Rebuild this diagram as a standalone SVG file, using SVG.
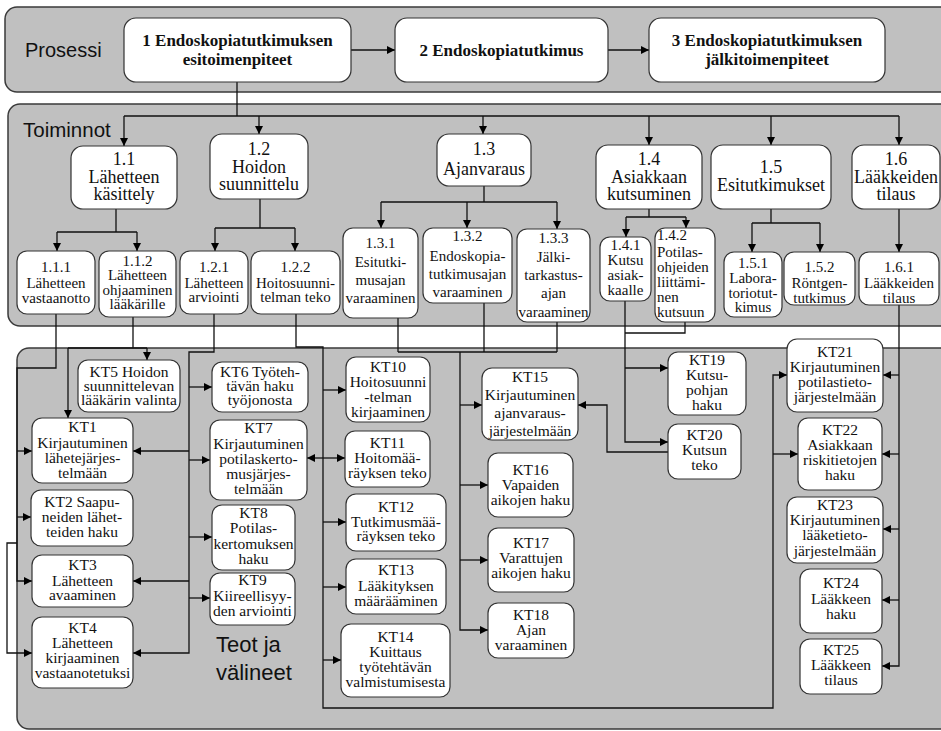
<svg xmlns="http://www.w3.org/2000/svg" width="941" height="731" viewBox="0 0 941 731">
<defs>
<marker id="ah" viewBox="0 0 10 10" refX="10" refY="5" markerWidth="9" markerHeight="8" orient="auto" markerUnits="userSpaceOnUse"><path d="M0,0L10,5L0,10z" fill="#000"/></marker>
</defs>
<style>
.panel{fill:#c0c0c0;stroke:#3a3a3a;stroke-width:1.5}
.node rect{fill:#fff;stroke:#333;stroke-width:1.2}
.node text{font-family:"Liberation Serif","Times New Roman",serif;font-size:15.5px;fill:#111;text-anchor:middle}
.l2 text{font-size:18px}
.l3 text{font-size:15px}
.p text{font-size:17px;font-weight:bold}
.lbl{font-family:"Liberation Sans",Arial,sans-serif;fill:#111}
#connectors path{fill:none;stroke:#111;stroke-width:1.3}
#connectors .a{marker-end:url(#ah)}
</style>
<rect fill="#fff" x="0" y="0" width="941" height="731"/>
<g id="panels">
<rect class="panel" x="5" y="7" width="960" height="85" rx="12"/>
<rect class="panel" x="8" y="104" width="960" height="222" rx="12"/>
<rect class="panel" x="17" y="348" width="960" height="381" rx="12"/>
<text class="lbl" x="25" y="57" font-size="20">Prosessi</text>
<text class="lbl" x="23" y="137" font-size="20.5">Toiminnot</text>
<text class="lbl" x="216" y="652" font-size="22">Teot ja</text>
<text class="lbl" x="216" y="680" font-size="22">välineet</text>
</g>
<g id="connectors">
<path class="a" d="M351,50H395"/>
<path class="a" d="M608,50H649"/>
<path d="M237,82V116M124,116H899"/>
<path class="a" d="M124,116V146"/>
<path class="a" d="M259,116V134"/>
<path class="a" d="M483,116V134"/>
<path class="a" d="M649,116V145"/>
<path class="a" d="M771,116V145"/>
<path class="a" d="M899,116V145"/>
<path d="M116,209V232M57,232H137"/>
<path class="a" d="M57,232V251"/>
<path class="a" d="M137,232V251"/>
<path d="M260,199V228M215,228H295"/>
<path class="a" d="M215,228V251"/>
<path class="a" d="M295,228V251"/>
<path d="M484,186V202M381,202H557"/>
<path class="a" d="M381,202V228"/>
<path class="a" d="M467,202V228"/>
<path class="a" d="M557,202V229"/>
<path d="M649,209V217M626,217H686"/>
<path class="a" d="M626,217V237"/>
<path class="a" d="M686,217V228"/>
<path d="M771,209V223M752,223H820"/>
<path class="a" d="M752,223V252"/>
<path class="a" d="M820,223V252"/>
<path class="a" d="M899,209V252"/>
<path class="a" d="M56,314V368H17V581H32"/>
<path class="a" d="M17,451H32"/>
<path class="a" d="M17,517H31"/>
<path class="a" d="M17,543H7V653H32"/>
<path d="M133,317V348M68,348H147"/>
<path class="a" d="M68,348V418"/>
<path class="a" d="M147,348V360"/>
<path class="a" d="M214,314V352H189V653H133"/>
<path class="a" d="M189,387H212"/>
<path class="a" d="M189,451H133"/>
<path class="a" d="M189,460H210"/>
<path class="a" d="M189,537H212"/>
<path class="a" d="M189,581H133"/>
<path class="a" d="M189,598H210"/>
<path class="a" d="M296,314V347H323V708H773V375H787"/>
<path class="a" d="M323,390H346"/>
<path class="a" d="M323,458H307"/>
<path class="a" d="M323,458H345"/>
<path class="a" d="M323,522H346"/>
<path class="a" d="M323,587H346"/>
<path class="a" d="M323,660H341"/>
<path class="a" d="M773,454H798"/>
<path d="M398,318V352M484,303V352M557,322V352M398,352H557"/>
<path class="a" d="M460,352V630H488"/>
<path class="a" d="M460,405H482"/>
<path class="a" d="M460,485H488"/>
<path class="a" d="M460,560H488"/>
<path class="a" d="M625,301V442H668"/>
<path d="M685,322V333H625"/>
<path class="a" d="M625,368H668"/>
<path class="a" d="M668,452H607V405H578"/>
<path class="a" d="M899,305V666H882"/>
<path class="a" d="M899,375H883"/>
<path class="a" d="M899,454H882"/>
<path class="a" d="M899,529H883"/>
<path class="a" d="M899,600H882"/>
</g>
<g id="n1" class="node p"><rect x="124" y="18" width="227" height="64" rx="12"/><text><tspan x="237.5" y="46">1 Endoskopiatutkimuksen</tspan><tspan x="237.5" y="65">esitoimenpiteet</tspan></text></g>
<g id="n2" class="node p"><rect x="395" y="18" width="213" height="64" rx="12"/><text><tspan x="501.5" y="56">2 Endoskopiatutkimus</tspan></text></g>
<g id="n3" class="node p"><rect x="649" y="18" width="236" height="64" rx="12"/><text><tspan x="767" y="46">3 Endoskopiatutkimuksen</tspan><tspan x="767" y="65">jälkitoimenpiteet</tspan></text></g>
<g id="n1_1" class="node l2"><rect x="71" y="146" width="106" height="63" rx="12"/><text><tspan x="124" y="165">1.1</tspan><tspan x="124" y="183">Lähetteen</tspan><tspan x="124" y="200">käsittely</tspan></text></g>
<g id="n1_2" class="node l2"><rect x="210" y="134" width="98" height="65" rx="12"/><text><tspan x="259" y="155">1.2</tspan><tspan x="259" y="172.5">Hoidon</tspan><tspan x="259" y="190">suunnittelu</tspan></text></g>
<g id="n1_3" class="node l2"><rect x="437" y="134" width="94" height="52" rx="12"/><text><tspan x="484" y="155">1.3</tspan><tspan x="484" y="175">Ajanvaraus</tspan></text></g>
<g id="n1_4" class="node l2"><rect x="596" y="145" width="106" height="64" rx="12"/><text><tspan x="649" y="165">1.4</tspan><tspan x="649" y="183">Asiakkaan</tspan><tspan x="649" y="200">kutsuminen</tspan></text></g>
<g id="n1_5" class="node l2"><rect x="711" y="145" width="120" height="64" rx="12"/><text><tspan x="771" y="173">1.5</tspan><tspan x="771" y="191">Esitutkimukset</tspan></text></g>
<g id="n1_6" class="node l2"><rect x="852" y="145" width="88" height="64" rx="12"/><text><tspan x="896" y="165">1.6</tspan><tspan x="896" y="183">Lääkkeiden</tspan><tspan x="896" y="200">tilaus</tspan></text></g>
<g id="n1_1_1" class="node l3"><rect x="17" y="251" width="78" height="63" rx="10"/><text><tspan x="56" y="272">1.1.1</tspan><tspan x="56" y="288">Lähetteen</tspan><tspan x="56" y="303">vastaanotto</tspan></text></g>
<g id="n1_1_2" class="node l3"><rect x="99" y="251" width="77" height="66" rx="10"/><text><tspan x="137.5" y="266">1.1.2</tspan><tspan x="137.5" y="280">Lähetteen</tspan><tspan x="137.5" y="295">ohjaaminen</tspan><tspan x="137.5" y="309">lääkärille</tspan></text></g>
<g id="n1_2_1" class="node l3"><rect x="180" y="251" width="68" height="63" rx="10"/><text><tspan x="214" y="272">1.2.1</tspan><tspan x="214" y="288">Lähetteen</tspan><tspan x="214" y="302">arviointi</tspan></text></g>
<g id="n1_2_2" class="node l3"><rect x="251" y="251" width="89" height="63" rx="10"/><text><tspan x="295.5" y="272">1.2.2</tspan><tspan x="295.5" y="288">Hoitosuunni-</tspan><tspan x="295.5" y="302">telman teko</tspan></text></g>
<g id="n1_3_1" class="node l3"><rect x="343" y="228" width="75" height="90" rx="10"/><text><tspan x="380.5" y="248">1.3.1</tspan><tspan x="380.5" y="267">Esitutki-</tspan><tspan x="380.5" y="285">musajan</tspan><tspan x="380.5" y="303">varaaminen</tspan></text></g>
<g id="n1_3_2" class="node l3"><rect x="423" y="228" width="89" height="75" rx="10"/><text><tspan x="467.5" y="241">1.3.2</tspan><tspan x="467.5" y="261">Endoskopia-</tspan><tspan x="467.5" y="279">tutkimusajan</tspan><tspan x="467.5" y="297">varaaminen</tspan></text></g>
<g id="n1_3_3" class="node l3"><rect x="517" y="229" width="73" height="93" rx="10"/><text><tspan x="553.5" y="243">1.3.3</tspan><tspan x="553.5" y="262">Jälki-</tspan><tspan x="553.5" y="280">tarkastus-</tspan><tspan x="553.5" y="298">ajan</tspan><tspan x="553.5" y="317">varaaminen</tspan></text></g>
<g id="n1_4_1" class="node l3"><rect x="600" y="237" width="51" height="64" rx="10"/><text><tspan x="625.5" y="250">1.4.1</tspan><tspan x="625.5" y="265">Kutsu</tspan><tspan x="625.5" y="280">asiak-</tspan><tspan x="625.5" y="295">kaalle</tspan></text></g>
<g id="n1_4_2" class="node l3"><rect x="655" y="228" width="60" height="94" rx="10"/><text style="text-anchor:start"><tspan x="657" y="240">1.4.2</tspan><tspan x="657" y="257">Potilas-</tspan><tspan x="657" y="272">ohjeiden</tspan><tspan x="657" y="287">liittämi-</tspan><tspan x="657" y="302">nen</tspan><tspan x="657" y="317">kutsuun</tspan></text></g>
<g id="n1_5_1" class="node l3"><rect x="724" y="252" width="58" height="65" rx="10"/><text><tspan x="753" y="268">1.5.1</tspan><tspan x="753" y="283">Labora-</tspan><tspan x="753" y="298">toriotut-</tspan><tspan x="753" y="312">kimus</tspan></text></g>
<g id="n1_5_2" class="node l3"><rect x="784" y="252" width="71" height="53" rx="10"/><text><tspan x="819.5" y="272">1.5.2</tspan><tspan x="819.5" y="288">Röntgen-</tspan><tspan x="819.5" y="303">tutkimus</tspan></text></g>
<g id="n1_6_1" class="node l3"><rect x="859" y="252" width="80" height="53" rx="10"/><text><tspan x="899" y="272">1.6.1</tspan><tspan x="899" y="288">Lääkkeiden</tspan><tspan x="899" y="303">tilaus</tspan></text></g>
<g id="kt1" class="node"><rect x="32" y="418" width="101" height="65" rx="10"/><text><tspan x="82.5" y="432">KT1</tspan><tspan x="82.5" y="448">Kirjautuminen</tspan><tspan x="82.5" y="463">lähetejärjes-</tspan><tspan x="82.5" y="478">telmään</tspan></text></g>
<g id="kt2" class="node"><rect x="31" y="490" width="102" height="56" rx="10"/><text><tspan x="82" y="507">KT2 Saapu-</tspan><tspan x="82" y="522">neiden lähet-</tspan><tspan x="82" y="537">teiden haku</tspan></text></g>
<g id="kt3" class="node"><rect x="32" y="555" width="101" height="52" rx="10"/><text><tspan x="82.5" y="570">KT3</tspan><tspan x="82.5" y="586">Lähetteen</tspan><tspan x="82.5" y="600">avaaminen</tspan></text></g>
<g id="kt4" class="node"><rect x="32" y="617" width="101" height="71" rx="10"/><text><tspan x="82.5" y="633">KT4</tspan><tspan x="82.5" y="648">Lähetteen</tspan><tspan x="82.5" y="663">kirjaaminen</tspan><tspan x="82.5" y="678">vastaanotetuksi</tspan></text></g>
<g id="kt5" class="node"><rect x="78" y="360" width="102" height="52" rx="10"/><text><tspan x="129" y="377">KT5 Hoidon</tspan><tspan x="129" y="391">suunnittelevan</tspan><tspan x="129" y="405">lääkärin valinta</tspan></text></g>
<g id="kt6" class="node"><rect x="212" y="362" width="96" height="50" rx="10"/><text><tspan x="260" y="377">KT6 Työteh-</tspan><tspan x="260" y="391">tävän haku</tspan><tspan x="260" y="405">työjonosta</tspan></text></g>
<g id="kt7" class="node"><rect x="210" y="420" width="97" height="80" rx="10"/><text><tspan x="258.5" y="433">KT7</tspan><tspan x="258.5" y="449">Kirjautuminen</tspan><tspan x="258.5" y="464">potilaskerto-</tspan><tspan x="258.5" y="479">musjärjes-</tspan><tspan x="258.5" y="494">telmään</tspan></text></g>
<g id="kt8" class="node"><rect x="212" y="505" width="83" height="65" rx="10"/><text><tspan x="253.5" y="518">KT8</tspan><tspan x="253.5" y="533">Potilas-</tspan><tspan x="253.5" y="549">kertomuksen</tspan><tspan x="253.5" y="564">haku</tspan></text></g>
<g id="kt9" class="node"><rect x="210" y="573" width="85" height="52" rx="10"/><text><tspan x="252.5" y="585">KT9</tspan><tspan x="252.5" y="601">Kiireellisyy-</tspan><tspan x="252.5" y="616">den arviointi</tspan></text></g>
<g id="kt10" class="node"><rect x="346" y="357" width="84" height="65" rx="10"/><text><tspan x="388" y="372">KT10</tspan><tspan x="388" y="387">Hoitosuunni</tspan><tspan x="388" y="402">-telman</tspan><tspan x="388" y="417">kirjaaminen</tspan></text></g>
<g id="kt11" class="node"><rect x="345" y="431" width="85" height="56" rx="10"/><text><tspan x="387.5" y="448">KT11</tspan><tspan x="387.5" y="463">Hoitomää-</tspan><tspan x="387.5" y="478">räyksen teko</tspan></text></g>
<g id="kt12" class="node"><rect x="346" y="494" width="100" height="57" rx="10"/><text><tspan x="396" y="512">KT12</tspan><tspan x="396" y="527">Tutkimusmää-</tspan><tspan x="396" y="541">räyksen teko</tspan></text></g>
<g id="kt13" class="node"><rect x="346" y="559" width="100" height="55" rx="10"/><text><tspan x="396" y="575">KT13</tspan><tspan x="396" y="591">Lääkityksen</tspan><tspan x="396" y="606">määrääminen</tspan></text></g>
<g id="kt14" class="node"><rect x="341" y="624" width="109" height="73" rx="10"/><text><tspan x="395.5" y="642">KT14</tspan><tspan x="395.5" y="657">Kuittaus</tspan><tspan x="395.5" y="672">työtehtävän</tspan><tspan x="395.5" y="687">valmistumisesta</tspan></text></g>
<g id="kt15" class="node"><rect x="482" y="368" width="96" height="72" rx="10"/><text><tspan x="530" y="382">KT15</tspan><tspan x="530" y="400">Kirjautuminen</tspan><tspan x="530" y="418">ajanvaraus-</tspan><tspan x="530" y="436">järjestelmään</tspan></text></g>
<g id="kt16" class="node"><rect x="488" y="453" width="85" height="64" rx="10"/><text><tspan x="530.5" y="475">KT16</tspan><tspan x="530.5" y="490">Vapaiden</tspan><tspan x="530.5" y="505">aikojen haku</tspan></text></g>
<g id="kt17" class="node"><rect x="488" y="528" width="86" height="64" rx="10"/><text><tspan x="531" y="548">KT17</tspan><tspan x="531" y="563">Varattujen</tspan><tspan x="531" y="578">aikojen haku</tspan></text></g>
<g id="kt18" class="node"><rect x="488" y="603" width="86" height="55" rx="10"/><text><tspan x="531" y="620">KT18</tspan><tspan x="531" y="635">Ajan</tspan><tspan x="531" y="650">varaaminen</tspan></text></g>
<g id="kt19" class="node"><rect x="668" y="352" width="78" height="63" rx="10"/><text><tspan x="707" y="365">KT19</tspan><tspan x="707" y="380">Kutsu-</tspan><tspan x="707" y="395">pohjan</tspan><tspan x="707" y="410">haku</tspan></text></g>
<g id="kt20" class="node"><rect x="668" y="424" width="73" height="55" rx="10"/><text><tspan x="704.5" y="440">KT20</tspan><tspan x="704.5" y="455">Kutsun</tspan><tspan x="704.5" y="470">teko</tspan></text></g>
<g id="kt21" class="node"><rect x="787" y="339" width="96" height="73" rx="10"/><text><tspan x="835" y="357">KT21</tspan><tspan x="835" y="372">Kirjautuminen</tspan><tspan x="835" y="387">potilastieto-</tspan><tspan x="835" y="402">järjestelmään</tspan></text></g>
<g id="kt22" class="node"><rect x="798" y="418" width="84" height="72" rx="10"/><text><tspan x="840" y="435">KT22</tspan><tspan x="840" y="450">Asiakkaan</tspan><tspan x="840" y="465">riskitietojen</tspan><tspan x="840" y="480">haku</tspan></text></g>
<g id="kt23" class="node"><rect x="787" y="497" width="96" height="66" rx="10"/><text><tspan x="835" y="510">KT23</tspan><tspan x="835" y="525">Kirjautuminen</tspan><tspan x="835" y="540">lääketieto-</tspan><tspan x="835" y="556">järjestelmään</tspan></text></g>
<g id="kt24" class="node"><rect x="800" y="569" width="82" height="64" rx="10"/><text><tspan x="841" y="588">KT24</tspan><tspan x="841" y="604">Lääkkeen</tspan><tspan x="841" y="619">haku</tspan></text></g>
<g id="kt25" class="node"><rect x="800" y="639" width="82" height="55" rx="10"/><text><tspan x="841" y="655">KT25</tspan><tspan x="841" y="670">Lääkkeen</tspan><tspan x="841" y="685">tilaus</tspan></text></g>
</svg>
